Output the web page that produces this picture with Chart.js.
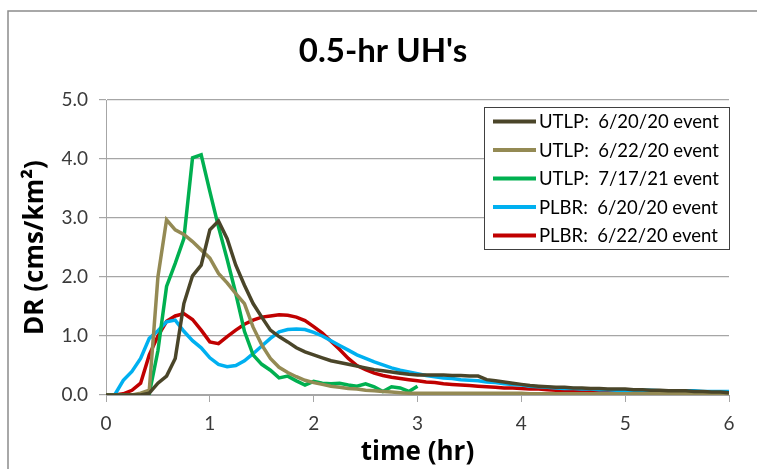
<!DOCTYPE html>
<html>
<head>
<meta charset="utf-8">
<script src="https://cdn.jsdelivr.net/npm/chart.js@4"></script>
<style>
  html, body { margin: 0; padding: 0; background: #fff; }
  #wrap { width: 757px; height: 469px; }
</style>
</head>
<body>
<div id="wrap"><canvas id="uhChart" width="757" height="469"></canvas></div>
<script>
// time in minutes, 5-min steps
const timeMin = [0, 5, 10, 15, 20, 25, 30, 35, 40, 45, 50, 55, 60, 65, 70, 75, 80, 85, 90, 95,
  100, 105, 110, 115, 120, 125, 130, 135, 140, 145, 150, 155, 160, 165, 170, 175, 180, 185, 190, 195,
  200, 205, 210, 215, 220, 225, 230, 235, 240, 245, 250, 255, 260, 265, 270, 275, 280, 285, 290, 295,
  300, 305, 310, 315, 320, 325, 330, 335, 340, 345, 350, 355, 360];

const utlp0620 = [0, 0, 0, 0, 0, 0.03, 0.2, 0.32, 0.62, 1.55, 2.02, 2.2, 2.8, 2.95, 2.65, 2.2, 1.86, 1.55, 1.32, 1.1,
  0.99, 0.9, 0.8, 0.73, 0.68, 0.63, 0.58, 0.55, 0.52, 0.49, 0.46, 0.43, 0.41, 0.39, 0.37, 0.35, 0.34, 0.34, 0.34, 0.34,
  0.33, 0.33, 0.32, 0.32, 0.26, 0.24, 0.22, 0.2, 0.18, 0.16, 0.15, 0.14, 0.13, 0.13, 0.12, 0.12, 0.11, 0.11, 0.1, 0.1,
  0.1, 0.09, 0.09, 0.08, 0.08, 0.07, 0.07, 0.07, 0.06, 0.06, 0.05, 0.05, 0.04];

const utlp0622 = [0, 0, 0, 0, 0.03, 0.08, 2.0, 2.97, 2.8, 2.72, 2.6, 2.46, 2.32, 2.06, 1.9, 1.72, 1.55, 1.15, 0.85, 0.62,
  0.47, 0.38, 0.31, 0.25, 0.21, 0.18, 0.15, 0.13, 0.11, 0.1, 0.08, 0.07, 0.06, 0.05, 0.04, 0.03, 0.03, 0.03, 0.03, 0.03,
  0.03, 0.03, 0.03, 0.03, 0.03, 0.03, 0.03, 0.03, 0.03, 0.02, 0.02, 0.02, 0.02, 0.02, 0.02, 0.02, 0.02, 0.02, 0.02, 0.02,
  0.02, 0.02, 0.02, 0.02, 0.02, 0.02, 0.02, 0.02, 0.02, 0.02, 0.02, 0.02, 0.02];

const utlp0721 = [0, 0, 0, 0, 0, 0.02, 0.75, 1.84, 2.23, 2.65, 4.02, 4.07, 3.45, 2.85, 2.3, 1.72, 1.08, 0.68, 0.52, 0.42,
  0.29, 0.32, 0.24, 0.17, 0.23, 0.2, 0.19, 0.2, 0.17, 0.15, 0.19, 0.14, 0.06, 0.14, 0.12, 0.06, 0.15];

const plbr0620 = [0, 0, 0.25, 0.4, 0.62, 0.96, 1.09, 1.24, 1.27, 1.08, 0.92, 0.8, 0.63, 0.52, 0.48, 0.5, 0.58, 0.7, 0.83, 0.96,
  1.07, 1.11, 1.12, 1.11, 1.06, 1.0, 0.92, 0.84, 0.76, 0.68, 0.62, 0.56, 0.51, 0.46, 0.42, 0.39, 0.36, 0.33, 0.31, 0.29,
  0.28, 0.26, 0.25, 0.24, 0.22, 0.21, 0.19, 0.18, 0.17, 0.15, 0.14, 0.13, 0.12, 0.11, 0.11, 0.1, 0.1, 0.09, 0.09, 0.08,
  0.08, 0.08, 0.08, 0.08, 0.07, 0.07, 0.07, 0.07, 0.07, 0.06, 0.06, 0.06, 0.06];

const plbr0622 = [0, 0, 0.02, 0.08, 0.2, 0.68, 1.0, 1.25, 1.34, 1.38, 1.28, 1.1, 0.9, 0.87, 0.99, 1.1, 1.2, 1.27, 1.32, 1.34,
  1.36, 1.35, 1.32, 1.26, 1.16, 1.05, 0.91, 0.77, 0.62, 0.5, 0.43, 0.37, 0.33, 0.3, 0.28, 0.26, 0.24, 0.22, 0.21, 0.19,
  0.18, 0.17, 0.16, 0.15, 0.14, 0.13, 0.12, 0.12, 0.11, 0.1, 0.1, 0.09, 0.08, 0.08, 0.07, 0.07, 0.06, 0.06, 0.05, 0.05,
  0.05, 0.04, 0.04, 0.04, 0.03, 0.03, 0.03, 0.03, 0.03, 0.02, 0.02, 0.02, 0.02];

const seriesLabels = ["UTLP:  6/20/20 event", "UTLP:  6/22/20 event", "UTLP:  7/17/21 event",
  "PLBR:  6/20/20 event", "PLBR:  6/22/20 event"];
const seriesColors = ["#4a4529", "#948a54", "#00b050", "#00b0f0", "#c00000"];
const seriesValues = [utlp0620, utlp0622, utlp0721, plbr0620, plbr0622];

const xTicks = [0, 1, 2, 3, 4, 5, 6];
const yTicks = [0, 1, 2, 3, 4, 5];

const chartTitle = "0.5-hr UH's";
const xTitle = "time (hr)";
const yTitle = "DR (cms/km²)";

const FONT = "Lato, 'Open Sans', sans-serif";
const AXIS_FONT = "'Open Sans', Lato, sans-serif";

function toPoints(vals) {
  return vals.map((v, i) => ({ x: timeMin[i] / 60, y: v }));
}

// outer chart frame + title
const framePlugin = {
  id: "frame",
  beforeDraw(chart) {
    const ctx = chart.ctx;
    ctx.save();
    ctx.fillStyle = "#fff";
    ctx.fillRect(0, 0, chart.width, chart.height);
    ctx.strokeStyle = "#8c8c8c";
    ctx.lineWidth = 1.5;
    ctx.strokeRect(8, 11, chart.width + 20, chart.height + 20);
    ctx.fillStyle = "#000";
    ctx.font = "bold 33px " + FONT;
    ctx.textAlign = "center";
    ctx.textBaseline = "alphabetic";
    ctx.fillText(chartTitle, 383, 62);
    ctx.restore();
  }
};

// boxed legend inside the plot, top right
const boxLegend = {
  id: "boxLegend",
  afterDraw(chart) {
    const ctx = chart.ctx;
    const x0 = 484, y0 = 107, w = 245, h = 142;
    ctx.save();
    ctx.fillStyle = "#fff";
    ctx.fillRect(x0, y0, w, h);
    ctx.strokeStyle = "#404040";
    ctx.lineWidth = 1;
    ctx.strokeRect(x0 + 0.5, y0 + 0.5, w, h);
    ctx.font = "18.5px " + FONT;
    ctx.textBaseline = "middle";
    ctx.fillStyle = "#000";
    chart.data.datasets.forEach((ds, i) => {
      const y = 121.5 + i * 28.5;
      ctx.strokeStyle = ds.borderColor;
      ctx.lineWidth = 4;
      ctx.beginPath();
      ctx.moveTo(493, y);
      ctx.lineTo(536, y);
      ctx.stroke();
      ctx.fillText(ds.label, 539, y + 1);
    });
    ctx.restore();
  }
};

new Chart(document.getElementById("uhChart").getContext("2d"), {
  type: "line",
  data: {
    datasets: seriesValues.map((vals, i) => ({
      label: seriesLabels[i],
      data: toPoints(vals),
      borderColor: seriesColors[i],
      backgroundColor: seriesColors[i],
      borderWidth: 3.5,
      pointRadius: 0,
      tension: 0,
      fill: false
    }))
  },
  options: {
    responsive: false,
    animation: false,
    layout: { padding: { left: 0, right: 28, top: 100, bottom: 0 } },
    plugins: {
      legend: { display: false },
      tooltip: { enabled: false },
      title: { display: false }
    },
    scales: {
      x: {
        type: "linear",
        min: 0,
        max: 6,
        afterFit(s) { s.height = 74; },
        afterBuildTicks(s) { s.ticks = xTicks.map(v => ({ value: v })); },
        ticks: {
          color: "#3a3a3a",
          font: { family: FONT, size: 19 },
          padding: 10,
          maxRotation: 0,
          callback: v => String(v)
        },
        grid: { drawOnChartArea: false, drawTicks: true, tickLength: 7, color: "#a6a6a6" },
        border: { display: true, color: "#a6a6a6", width: 1 },
        title: {
          display: true,
          text: xTitle,
          color: "#000",
          font: { family: AXIS_FONT, size: 26, weight: "bold", lineHeight: 1.2 },
          padding: { top: 0, bottom: 1 }
        }
      },
      y: {
        min: 0,
        max: 5,
        afterFit(s) { s.width = 106; },
        afterBuildTicks(s) { s.ticks = yTicks.map(v => ({ value: v })); },
        ticks: {
          color: "#3a3a3a",
          font: { family: FONT, size: 19 },
          padding: 11,
          callback: v => v.toFixed(1)
        },
        grid: { drawOnChartArea: true, drawTicks: true, tickLength: 7, color: "#a6a6a6", lineWidth: 1.2 },
        border: { display: true, color: "#a6a6a6", width: 1 },
        title: {
          display: true,
          text: yTitle,
          color: "#000",
          font: { family: AXIS_FONT, size: 26, weight: "bold", lineHeight: 1.2 },
          padding: { top: 20, bottom: 0 }
        }
      }
    }
  },
  plugins: [framePlugin, boxLegend]
});
</script>
</body>
</html>
